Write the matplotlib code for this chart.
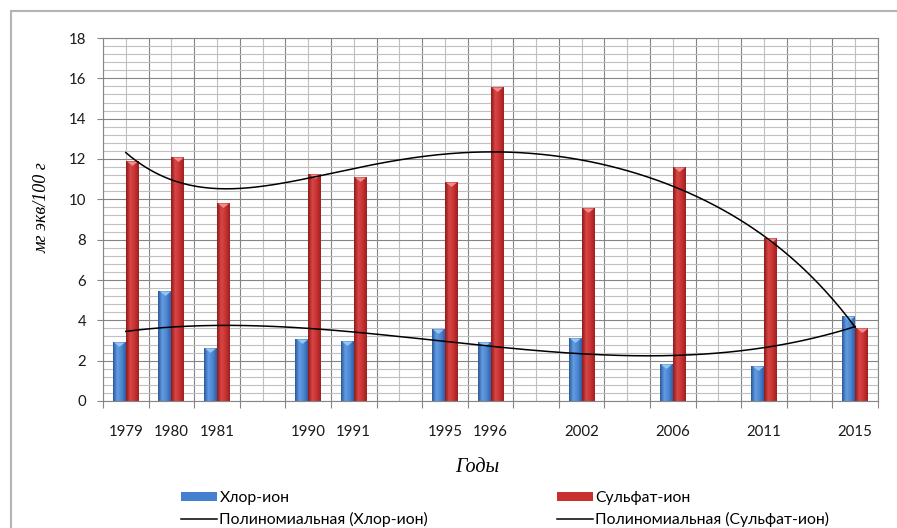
import numpy as np
import matplotlib.pyplot as plt
from matplotlib.colors import LinearSegmentedColormap
from matplotlib.patches import Rectangle

# годы отбора проб (пустые подписи - промежутки на оси категорий)
years = ['1979', '1980', '1981', '', '1990', '1991', '', '1995', '1996', '',
         '2002', '', '2006', '', '2011', '', '2015']
chlor = [2.94, 5.45, 2.61, None, 3.06, 2.99, None, 3.57, 2.94, None,
         3.14, None, 1.82, None, 1.74, None, 4.23]
sulf = [11.9, 12.08, 9.8, None, 11.25, 11.12, None, 10.84, 15.58, None,
        9.55, None, 11.58, None, 8.1, None, 3.63]

plt.rcParams['font.family'] = ['Lato', 'DejaVu Sans']

fig = plt.figure(figsize=(8.97, 5.28), dpi=100)
ax = fig.add_axes([103/897, 127/528, 775/897, 363/528])

x = np.arange(len(years))
w = 0.285

def pts(vals):
    xi = np.array([i for i, v in enumerate(vals) if v is not None])
    yi = np.array([v for v in vals if v is not None])
    return xi, yi

xc, yc = pts(chlor)
xs, ys = pts(sulf)

blue_cm = LinearSegmentedColormap.from_list('b', ['#2c5899', '#629ce2', '#4d86d2', '#2e5fa6'])
red_cm = LinearSegmentedColormap.from_list('r', ['#8c1b1b', '#d94646', '#c83232', '#9e2020'])
grad = np.linspace(0, 1, 64).reshape(1, -1)

bars_c = ax.bar(xc - w/2, yc, w, color='#4480cf', label='Хлор-ион', zorder=2)
bars_s = ax.bar(xs + w/2, ys, w, color='#c83030', label='Сульфат-ион', zorder=2)

# цилиндрическая заливка столбиков градиентом
for bars, cm in ((bars_c, blue_cm), (bars_s, red_cm)):
    for p in bars:
        im = ax.imshow(grad, extent=[p.get_x(), p.get_x() + p.get_width(), 0, p.get_height()],
                       aspect='auto', cmap=cm, zorder=2.5, interpolation='bilinear')
        im.set_clip_path(p)

cap = [(-1, 0), (1, 0), (0, -0.8)]
ax.plot(xc - w/2, yc, ls='none', marker=cap, ms=8, color='#93c6f2', mec='none', zorder=3)
ax.plot(xs + w/2, ys, ls='none', marker=cap, ms=8, color='#f08c8c', mec='none', zorder=3)

# полиномиальные линии тренда
t = np.linspace(0, 16, 300)
pc = np.polyfit(xc, yc, 3)
ps = np.polyfit(xs, ys, 5)
tr_c, = ax.plot(t, np.polyval(pc, t), color='black', lw=1.1, zorder=4,
                label='Полиномиальная (Хлор-ион)')
tr_s, = ax.plot(t, np.polyval(ps, t), color='black', lw=1.1, zorder=4,
                label='Полиномиальная (Сульфат-ион)')

ax.set_xlim(-0.5, 16.5)
ax.set_ylim(0, 18)
ax.set_xticks(np.arange(-0.5, 17, 1))
ax.set_xticklabels([])
ax.set_xticks(x, minor=True)
ax.set_xticklabels(years, minor=True)
ax.set_yticks(np.arange(0, 19, 2))
ax.set_yticks(np.arange(0, 18.01, 0.4), minor=True)
ax.tick_params(axis='x', which='major', length=5, color='#868686', direction='out')
ax.tick_params(axis='x', which='minor', length=0, pad=17, labelsize=10.8, labelcolor='#1a1a1a')
ax.tick_params(axis='y', which='major', length=4, color='#868686', pad=8,
               labelsize=10.8, labelcolor='#1a1a1a')
ax.tick_params(axis='y', which='minor', length=0)
ax.set_axisbelow(True)
ax.grid(which='major', color='#858585', lw=0.8)
ax.grid(which='minor', color='#c0c0c0', lw=0.8)
for s in ax.spines.values():
    s.set_color('#868686')
    s.set_linewidth(0.8)

fig.text(42/897, 1 - 208/528, 'мг экв/100 г', rotation=90, ha='center', va='center',
         family='Liberation Serif', style='italic', size=13)
fig.text(477/897, 1 - 467/528, 'Годы', ha='center', va='center',
         family='Liberation Serif', style='italic', size=14.5)

leg_kw = dict(loc='upper left', frameon=False, fontsize=11.3, handlelength=2.3,
              handleheight=0.55, handletextpad=0.15, labelspacing=0.45,
              borderpad=0, borderaxespad=0)
fig.legend(handles=[bars_c, tr_c], bbox_to_anchor=(181/897, 1 - 491/528), **leg_kw)
fig.legend(handles=[bars_s, tr_s], bbox_to_anchor=(557/897, 1 - 491/528), **leg_kw)

# рамка области диаграммы
fig.patches.append(Rectangle((11/897, -0.1), 1.0, 1.1 - 11/528, transform=fig.transFigure,
                             fill=False, edgecolor='#b4b4b4', lw=1.5))

fig.savefig('out.png', dpi=100)
